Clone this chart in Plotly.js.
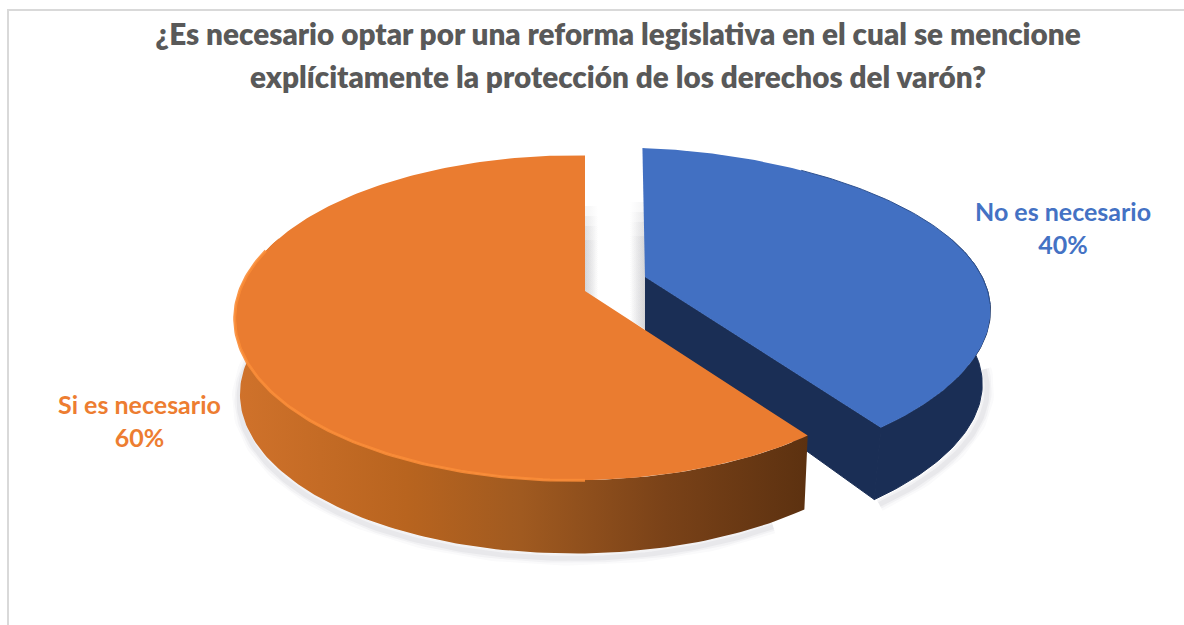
<!DOCTYPE html>
<html>
<head>
<meta charset="utf-8">
<script src="https://cdn.plot.ly/plotly-3.0.1.min.js"></script>
<style>html,body{margin:0;padding:0;background:#fff;}#chart{width:1184px;height:625px;}</style>
</head>
<body>
<div id="chart"></div>
<script>
const chartTitle = "¿Es necesario optar por una reforma legislativa en el cual se mencione<br>explícitamente la protección de los derechos del varón?";
const categories = ["No es necesario", "Si es necesario"];
const percents = [40, 60];
const topColors = ["#4270C2", "#EA7C30"];
const labelColors = ["#4472C4", "#ED7D31"];

// Perspective of each exploded slice's disc (apex, radii, vanishing terms).
const views = [
  {ax:645, ay:277, b:354, a:158, p:0.225, q:0.05, k:1.1, shear:0.02, bx:-3, dy:74, f:0.985},
  {ax:585, ay:291, b:335, a:158, p:0.165, q:0.03, k:1, shear:0, bx:0, dy:76, f:0.985}
];
const rad = d => d*Math.PI/180;
function pt(v, deg, lower){
  const u=Math.sin(rad(deg)), w=Math.cos(rad(deg)), d=1+v.p*w+v.q*u;
  const f=lower?v.f:1;
  const oy=v.a*w/d*(-1)*f, ox=v.b*Math.sign(u)*Math.pow(Math.abs(u),v.k)/d*f+v.shear*oy;
  return [v.ax+ox+(lower?v.bx:0), v.ay+oy+(lower?v.dy:0)];
}
function arc(v, from, to, lower){
  const r=[], n=Math.max(2,Math.ceil(Math.abs(to-from)));
  for(let i=0;i<=n;i++) r.push(pt(v, from+(to-from)*i/n, lower));
  return r;
}
function poly(points, opts){
  const xs=points.map(p=>p[0]), ys=points.map(p=>p[1]);
  return Object.assign({type:"scatter",mode:"lines",x:xs,y:ys,hoverinfo:"skip",showlegend:false,line:{width:0}},opts);
}
const total = percents.reduce((s,x)=>s+x,0);
const sweep = 360*percents[0]/total;
const vB=views[0], vO=views[1];
const traces=[];

// soft shadows
const shadowO = arc(vO,150,285,true).map(p=>[p[0]-1,p[1]+5]);
const shadowB = arc(vB,sweep,95,true).map(p=>[p[0]+5,p[1]+5]);
[[14,0.025],[9,0.04],[5,0.05]].forEach(s=>{
  traces.push(poly(shadowO,{line:{width:s[0],color:`rgba(60,60,70,${s[1]})`}}));
  traces.push(poly(shadowB,{line:{width:s[0],color:`rgba(60,60,70,${s[1]})`}}));
});
[[206,0.07],[216,0.08],[226,0.08],[240,0.08]].forEach(s=>{
  traces.push(poly([[584,s[0]],[598,s[0]],[598,306],[584,296]],{fill:"toself",fillcolor:"rgba(0,0,0,0)",
    fillgradient:{type:"horizontal",colorscale:[[0,`rgba(90,90,100,${s[1]})`],[1,"rgba(90,90,100,0)"]]}}));
  traces.push(poly([[630,s[0]-4],[646,s[0]-4],[646,330],[630,320]],{fill:"toself",fillcolor:"rgba(0,0,0,0)",
    fillgradient:{type:"horizontal",colorscale:[[0,"rgba(90,90,100,0)"],[1,`rgba(90,90,100,${s[1]})`]]}}));
});

// blue: inner wall, side, top
const bApexLow=[vB.ax, vB.ay+58];
const navy={width:1,color:"#1A2E55"};
traces.push(poly([[vB.ax,vB.ay],pt(vB,sweep),pt(vB,sweep,true),bApexLow],{fill:"toself",fillcolor:"#1A2E55",line:navy}));
traces.push(poly(arc(vB,75,sweep).concat(arc(vB,sweep,75,true)),{fill:"toself",fillcolor:"#1A2E55",line:navy}));
traces.push(poly([[vB.ax,vB.ay]].concat(arc(vB,0,sweep)),{fill:"toself",fillcolor:topColors[0],line:{width:0}}));
traces.push(poly(arc(vB,35,100),{line:{width:1,color:"#2F5290"}}));

// orange: side with gradient, top
traces.push(poly(arc(vO,sweep,290).concat(arc(vO,290,sweep,true)),{fill:"toself",fillcolor:"#A85A20",
  fillgradient:{type:"horizontal",colorscale:[[0,"#D0722B"],[0.3,"#B8641F"],[0.5,"#A05A20"],[0.75,"#7A4218"],[1,"#5C3110"]]}}));
traces.push(poly([[vO.ax,vO.ay]].concat(arc(vO,sweep,360)),{fill:"toself",fillcolor:topColors[1]}));
traces.push(poly(arc(vO,180,285),{line:{width:3,color:"rgba(250,140,55,0.9)"}}));

const labelPos=[[1063,227],[139,420]];
const annotations=categories.map((c,i)=>({
  x:labelPos[i][0],y:labelPos[i][1],xref:"x",yref:"y",showarrow:false,align:"center",
  text:c+"<br>"+percents[i]+"%",
  font:{family:"Lato, sans-serif",size:25,color:labelColors[i],weight:700}
}));

const layout={
  width:1184,height:625,margin:{l:0,r:0,t:0,b:0},
  paper_bgcolor:"#fff",plot_bgcolor:"#fff",showlegend:false,
  title:{text:chartTitle,x:618/1184,xanchor:"center",xref:"paper",y:0.928,yref:"paper",yanchor:"top",
    font:{family:"Lato, sans-serif",size:29.7,color:"#595959",weight:800}},
  xaxis:{range:[0,1184],visible:false,fixedrange:true},
  yaxis:{range:[625,0],visible:false,fixedrange:true},
  annotations,
  shapes:[
    {type:"line",x0:8,x1:8,y0:10,y1:625,line:{color:"#D9D9D9",width:2}},
    {type:"line",x0:7,x1:1184,y0:10,y1:10,line:{color:"#D9D9D9",width:2}}
  ]
};
Plotly.newPlot("chart",traces,layout,{staticPlot:true,displayModeBar:false}).then(()=>{
  const lines=document.querySelectorAll(".gtitle tspan.line");
  if(lines.length>1) lines[1].setAttribute("dy","1.448em");
});
</script>
</body>
</html>
